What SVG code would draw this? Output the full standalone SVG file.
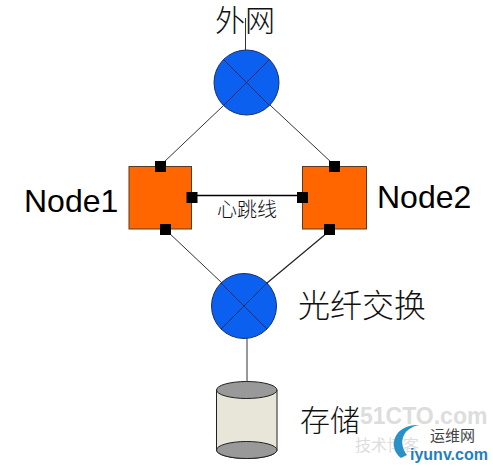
<svg xmlns="http://www.w3.org/2000/svg" width="493" height="469" viewBox="0 0 493 469">
<style>
.c{stroke:#333;stroke-width:1;fill:none}
.hub{fill:#0b60f0;stroke:#1a2f66;stroke-width:1}
.x{stroke:#12306a;stroke-width:1;fill:none}
.n{fill:#ff6600;stroke:#5a3a20;stroke-width:1}
.p{fill:#000}
.cn{font-family:"Noto Sans CJK SC","Noto Sans CJK JP",sans-serif;font-weight:300;fill:#111}
.en{font-family:"Liberation Sans",Arial,sans-serif;font-size:32px;fill:#000}
</style>
<rect width="493" height="469" fill="#fff"/>
<g id="connectors">
<line class="c" x1="245.500" y1="18" x2="245.500" y2="50"/>
<line class="c" x1="223" y1="106" x2="163" y2="163"/>
<line class="c" x1="270" y1="105" x2="332" y2="163"/>
<line x1="192" y1="195.500" x2="302" y2="195.500" stroke="#000" stroke-width="1.300"/>
<line class="c" x1="168" y1="232" x2="222" y2="283"/>
<line x1="327" y1="233" x2="267" y2="283" stroke="#222" stroke-width="1.200"/>
<line class="c" x1="247" y1="338" x2="247" y2="381"/>
</g>
<g id="hub-top">
<circle class="hub" cx="246.500" cy="82.500" r="32.500"/>
<path class="x" d="M223.500 59.500L269.500 105.500M269.500 59.500L223.500 105.500"/>
<text class="cn" x="215" y="31" font-size="30" textLength="60" lengthAdjust="spacing">外网</text>
</g>
<g id="node1">
<rect class="n" x="129" y="166.500" width="62.500" height="62.500"/>
<rect class="p" x="155" y="161" width="11" height="11"/>
<rect class="p" x="186.500" y="192" width="11" height="11"/>
<rect class="p" x="160" y="224" width="11" height="11"/>
<text class="en" x="24" y="212">Node1</text>
</g>
<g id="node2">
<rect class="n" x="302.500" y="166.500" width="64" height="62.500"/>
<rect class="p" x="329" y="161" width="11" height="11"/>
<rect class="p" x="297" y="192" width="11" height="11"/>
<rect class="p" x="324" y="224" width="11" height="11"/>
<text class="en" x="377" y="208">Node2</text>
</g>
<g id="heartbeat">
<text class="cn" x="217" y="217" font-size="20">心跳线</text>
</g>
<g id="hub-bottom">
<circle class="hub" cx="244" cy="306" r="32.500"/>
<path class="x" d="M221 283L267 329M267 283L221 329"/>
<text class="cn" x="298" y="317" font-size="32">光纤交换</text>
</g>
<g id="storage">
<path d="M216.500 390V450A30.250 8.500 0 0 0 277 450V390Z" fill="#e8e6d8" stroke="#222"/>
<ellipse cx="246.750" cy="390" rx="30.250" ry="8.500" fill="#999" stroke="#222"/>
<ellipse cx="246.750" cy="450" rx="30.250" ry="8.500" fill="#999" stroke="#222"/>
<text class="cn" x="300" y="431" font-size="30">存储</text>
</g>
<g id="watermark">
<text x="360" y="424" font-family="Liberation Sans,sans-serif" font-size="23" font-weight="700" fill="#ddd">51CTO.com</text>
<text x="355" y="451" font-family="Noto Sans CJK SC,sans-serif" font-size="16" fill="#ddd">技术博客</text>
<path d="M401 458C387 447 394 424 419 425C404 428 397 441 407 455Z" fill="#2a90c8"/>
<text x="430" y="441" font-family="Noto Sans CJK SC,sans-serif" font-size="15" fill="#444">运维网</text>
<text x="410" y="460" font-family="Liberation Sans,sans-serif" font-size="16" font-weight="700" fill="#1f7fc0">iyunv.com</text>
</g>
</svg>
